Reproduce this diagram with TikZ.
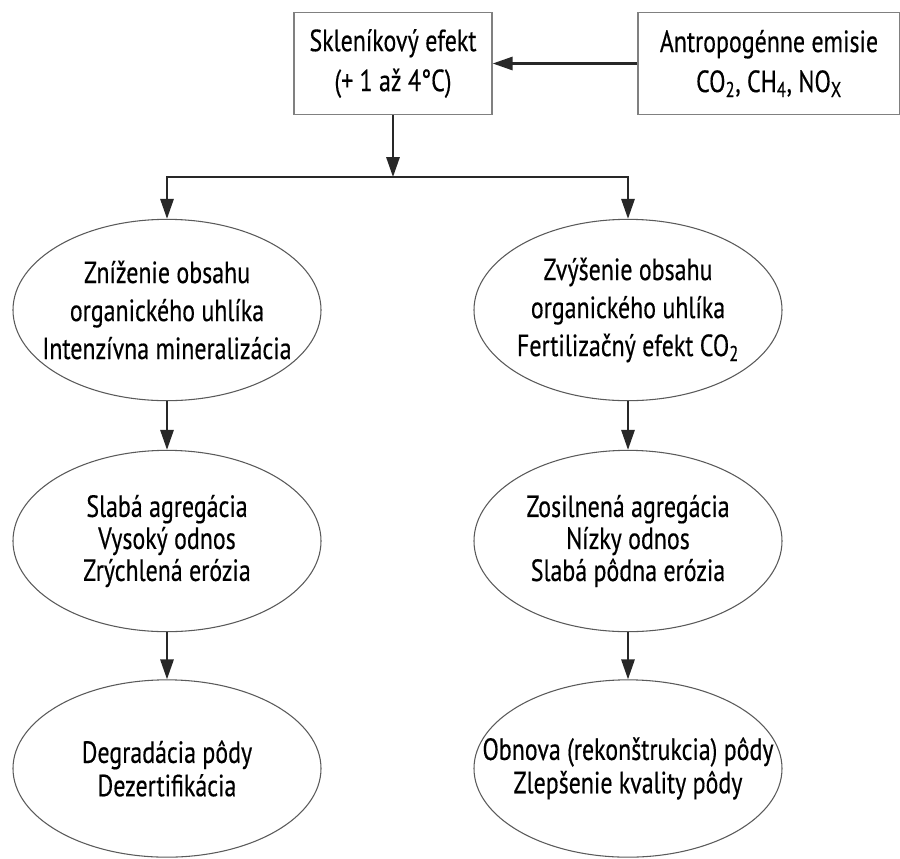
\documentclass[tikz,border=0pt]{standalone}
\usepackage{fontspec}
\setmainfont{PT Sans}[FakeStretch=0.78,FakeBold=0.4]
\usetikzlibrary{arrows.meta,shapes.geometric}

\begin{document}
\begin{tikzpicture}[x=0.75pt,y=0.75pt,yscale=-1,xscale=1,
  box/.style={draw={rgb, 255:red, 128; green, 128; blue, 128 },line width=1.1pt,minimum height=76.5pt,inner sep=0pt,align=center,font=\fontsize{23}{30}\selectfont},
  oval/.style={draw={rgb, 255:red, 90; green, 90; blue, 90 },line width=0.8pt,ellipse,minimum width=231pt,minimum height=136pt,inner sep=-40pt,align=center,font=\fontsize{23}{24}\selectfont},
  arr/.style={draw={rgb, 255:red, 40; green, 40; blue, 40 },line width=1.6pt,-{Triangle[length=15pt,width=10pt]}}]
\useasboundingbox (0,0) rectangle (900,858);

%Shape: Rectangle
\node [box,minimum width=148.5pt] (skl) at (393,63.5) {Skleníkový efekt\\(+ 1 až 4°C)};
%Shape: Rectangle
\node [box,minimum width=196.5pt] (emis) at (769,63.5) {Antropogénne emisie\\CO\textsubscript{2}, CH\textsubscript{4}, NO\textsubscript{X}};

%Shape: Ellipse (left)
\node [oval,font=\fontsize{23}{28.5}\selectfont] (zniz) at (167,310) {Zníženie obsahu\\organického uhlíka\\Intenzívna mineralizácia};
\node [oval] (slaba) at (167,541) {Slabá agregácia\\Vysoký odnos\\Zrýchlená erózia};
\node [oval,minimum height=133pt,font=\fontsize{23}{25}\selectfont] (degr) at (167,768.5) {Degradácia pôdy\\Dezertifikácia};

%Shape: Ellipse (right)
\node [oval,font=\fontsize{23}{28.5}\selectfont] (zvys) at (628,310) {Zvýšenie obsahu\\organického uhlíka\\Fertilizačný efekt CO\textsubscript{2}};
\node [oval] (zosil) at (628,541) {Zosilnená agregácia\\Nízky odnos\\Slabá pôdna erózia};
\node [oval,minimum height=133pt,font=\fontsize{23}{25}\selectfont] (obnova) at (628,768.5) {Obnova (rekonštrukcia) pôdy\\Zlepšenie kvality pôdy};

\coordinate (split) at (393,177);

%Straight Lines
\draw [arr] (emis) -- (skl);
\draw [arr] (skl) -- (split);
\draw [arr] (split) -| (zniz.north);
\draw [arr] (split) -| (zvys.north);
\draw [arr] (zniz) -- (slaba);
\draw [arr] (slaba) -- (degr);
\draw [arr] (zvys) -- (zosil);
\draw [arr] (zosil) -- (obnova);

\end{tikzpicture}
\end{document}
